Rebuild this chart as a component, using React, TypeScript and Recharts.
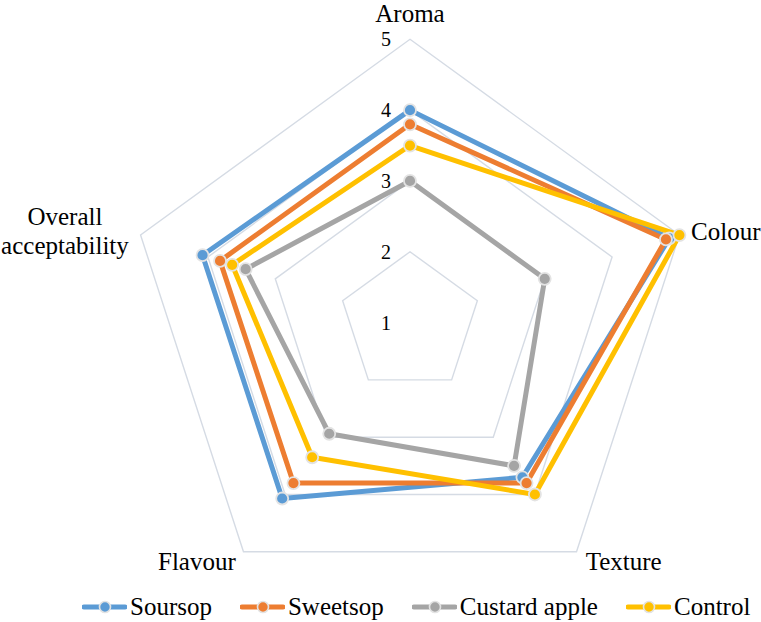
import React from 'react';
import {
  RadarChart,
  Radar,
  PolarGrid,
  PolarAngleAxis,
  PolarRadiusAxis,
  Legend,
} from 'recharts';

const categories = ['Aroma', 'Colour', 'Texture', 'Flavour', 'Overall acceptability'];
const soursop = [4.0, 4.85, 3.7, 4.07, 4.08];
const sweetsop = [3.8, 4.8, 3.8, 3.8, 3.82];
const custardApple = [3.0, 3.0, 3.5, 2.94, 3.44];
const control = [3.5, 5.0, 4.0, 3.35, 3.64];
const radiusTicks = [1, 2, 3, 4, 5];

const series = [
  { key: 'soursop', name: 'Soursop', color: '#5b9bd5', values: soursop },
  { key: 'sweetsop', name: 'Sweetsop', color: '#ed7d31', values: sweetsop },
  { key: 'custard', name: 'Custard apple', color: '#a5a5a5', values: custardApple },
  { key: 'control', name: 'Control', color: '#ffc000', values: control },
];

const data = categories.map((subject, i) => {
  const row: Record<string, string | number> = { subject };
  series.forEach((s) => {
    row[s.key] = s.values[i];
  });
  return row;
});

const FONT = '"Liberation Serif", "Times New Roman", serif';

// label nudges relative to where recharts puts the angle tick
const labelOffsets: Record<string, { dx: number; dy: number; anchor: string }> = {
  Aroma: { dx: 0, dy: -9.5, anchor: 'middle' },
  Colour: { dx: 4, dy: 7.5, anchor: 'start' },
  Texture: { dx: 4.5, dy: 12, anchor: 'start' },
  Flavour: { dx: -3, dy: 12, anchor: 'end' },
  'Overall acceptability': { dx: -68, dy: -8, anchor: 'middle' },
};

const AngleTick = (props: any) => {
  const { x, y, payload } = props;
  const label: string = payload.value;
  const o = labelOffsets[label] || { dx: 0, dy: 0, anchor: 'middle' };
  if (label === 'Overall acceptability') {
    return (
      <text x={x + o.dx} y={y + o.dy} textAnchor="middle" fontFamily={FONT} fontSize={25} fill="#000">
        <tspan x={x + o.dx}>Overall</tspan>
        <tspan x={x + o.dx} dy={29}>acceptability</tspan>
      </text>
    );
  }
  return (
    <text x={x + o.dx} y={y + o.dy} textAnchor={o.anchor} fontFamily={FONT} fontSize={25} fill="#000">
      {label}
    </text>
  );
};

const RadiusTick = (props: any) => {
  const { x, y, payload } = props;
  return (
    <text
      x={x - 19}
      y={y}
      textAnchor="end"
      dominantBaseline="central"
      fontFamily={FONT}
      fontSize={20}
      fill="#000"
    >
      {payload.value}
    </text>
  );
};

const LegendContent = () => (
  <div style={{ display: 'flex', alignItems: 'center', fontFamily: FONT, fontSize: 25, lineHeight: '25px' }}>
    {series.map((s, i) => (
      <div key={s.key} style={{ display: 'flex', alignItems: 'center', marginLeft: i === 0 ? 0 : 28 }}>
        <svg width={45} height={14}>
          <line x1={2} y1={7} x2={43} y2={7} stroke={s.color} strokeWidth={5} strokeLinecap="round" />
          <circle cx={23} cy={7} r={5.5} fill={s.color} stroke="#e3e3e3" strokeWidth={1.6} />
        </svg>
        <span style={{ marginLeft: 3, color: '#000', whiteSpace: 'nowrap' }}>{s.name}</span>
      </div>
    ))}
  </div>
);

export default function App() {
  return (
    <div style={{ position: 'fixed', left: 0, top: 0, width: 761, height: 622, background: '#fff' }}>
      <RadarChart
        width={761}
        height={622}
        data={data}
        cx={410}
        cy={322.6}
        outerRadius={283.3}
        margin={{ top: 0, right: 0, bottom: 0, left: 0 }}
      >
        <PolarGrid gridType="polygon" radialLines={false} stroke="#d5dbe4" strokeWidth={1.4} />
        <PolarAngleAxis dataKey="subject" axisLine={false} tickLine={false} tick={<AngleTick />} />
        <PolarRadiusAxis
          angle={90}
          type="number"
          domain={[1, 5]}
          ticks={radiusTicks}
          axisLine={false}
          tickLine={false}
          tick={<RadiusTick />}
        />
        {series.map((s) => (
          <Radar
            key={s.key}
            name={s.name}
            dataKey={s.key}
            stroke={s.color}
            strokeWidth={5}
            strokeLinejoin="round"
            fill="none"
            fillOpacity={0}
            dot={{ r: 6, fill: s.color, stroke: '#e3e3e3', strokeWidth: 1.8, fillOpacity: 1 }}
            isAnimationActive={false}
          />
        ))}
        <Legend
          content={<LegendContent />}
          wrapperStyle={{ position: 'absolute', top: 594, left: 82, width: 'auto', bottom: 'auto' }}
        />
      </RadarChart>
    </div>
  );
}
